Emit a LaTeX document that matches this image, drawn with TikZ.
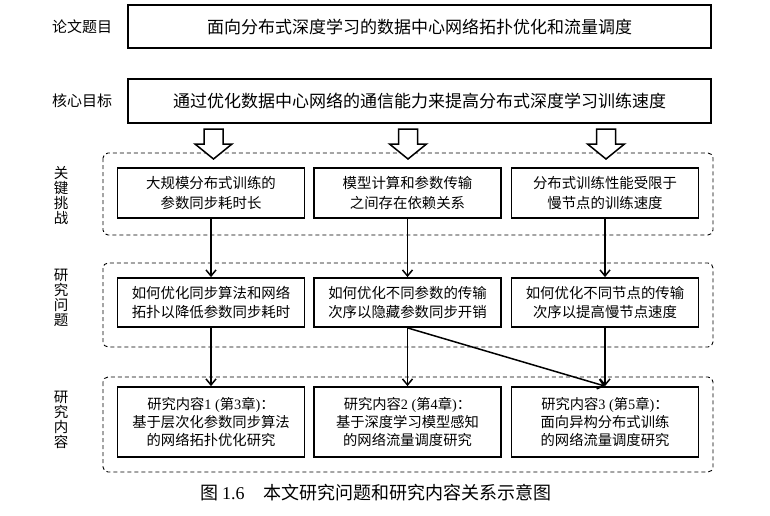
\documentclass[tikz,border=0pt]{standalone}
\usepackage{fontspec}
\setmainfont{Liberation Serif}
\newfontfamily\cjk{Noto Sans CJK SC}
\usetikzlibrary{arrows.meta}
\newcommand{\lt}[1]{{\rmfamily #1}}
\tikzset{
  x=1pt,y=-1pt,
  mainbox/.style={draw,line width=1.8pt,minimum width=583pt,minimum height=43pt,inner sep=0pt,font=\cjk\fontsize{17}{20}\selectfont},
  cellbox/.style={draw,line width=1.8pt,minimum width=187pt,inner sep=0pt,align=center},
  region/.style={draw,line width=0.9pt,dash pattern=on 4pt off 3pt,rounded corners=5pt},
  sidelabel/.style={inner sep=0pt,font=\cjk\fontsize{15}{15}\selectfont},
  vlabel/.style={inner sep=0pt,align=center,font=\cjk\fontsize{14.5}{15}\selectfont},
  link/.style={line width=1.5pt,-{Straight Barb[length=6pt,width=10pt,line width=1.5pt]}},
  blockarrow/.style={draw,fill=white,line width=1.5pt,line join=miter}
}
\begin{document}
\begin{tikzpicture}
\useasboundingbox (0,0) rectangle (770,516);
% top boxes
\node[mainbox] (title) at (419.5,26.5) {面向分布式深度学习的数据中心网络拓扑优化和流量调度};
\node[mainbox,minimum height=44pt] (goal) at (419.5,101) {通过优化数据中心网络的通信能力来提高分布式深度学习训练速度};
\node[sidelabel] (ltitle) at (82,27) {论文题目};
\node[sidelabel] (lgoal) at (82,101) {核心目标};
% regions
\draw[region] (103,153) rectangle (713,235);
\draw[region] (103,263) rectangle (713,347);
\draw[region] (103,377) rectangle (713,472);
\node[vlabel] (lchal) at (61,195.5) {关\\键\\挑\\战};
\node[vlabel] (lprob) at (61,297.5) {研\\究\\问\\题};
\node[vlabel] (lcont) at (61,420) {研\\究\\内\\容};
% block arrows
\foreach \i/\cx in {1/213.5,2/408,3/606}{
  \coordinate (ba\i) at (\cx,129);
  \draw[blockarrow] ([shift={(-9.5,0)}]ba\i) -- ([shift={(9.5,0)}]ba\i) -- ([shift={(9.5,15)}]ba\i)
     -- ([shift={(18.5,15)}]ba\i) -- ([shift={(0,30)}]ba\i) -- ([shift={(-18.5,15)}]ba\i)
     -- ([shift={(-9.5,15)}]ba\i) -- cycle;
}
% row 1
\tikzset{r1/.style={cellbox,minimum height=50pt,font=\cjk\fontsize{14.4}{20}\selectfont}}
\node[r1] (c11) at (211,193) {大规模分布式训练的\\参数同步耗时长};
\node[r1] (c12) at (407.5,193) {模型计算和参数传输\\之间存在依赖关系};
\node[r1] (c13) at (605,193) {分布式训练性能受限于\\慢节点的训练速度};
% row 2
\tikzset{r2/.style={cellbox,minimum height=49pt,font=\cjk\fontsize{14.4}{19}\selectfont}}
\node[r2] (c21) at (211,302.5) {如何优化同步算法和网络\\拓扑以降低参数同步耗时};
\node[r2] (c22) at (407.5,302.5) {如何优化不同参数的传输\\次序以隐藏参数同步开销};
\node[r2] (c23) at (605,302.5) {如何优化不同节点的传输\\次序以提高慢节点速度};
% row 3
\tikzset{r3/.style={cellbox,minimum height=70pt,font=\cjk\fontsize{14.3}{18}\selectfont}}
\node[r3] (c31) at (211,422) {研究内容\lt{1 (}第\lt{3}章\lt{)}：\\基于层次化参数同步算法\\的网络拓扑优化研究};
\node[r3] (c32) at (407.5,422) {研究内容\lt{2 (}第\lt{4}章\lt{)}：\\基于深度学习模型感知\\的网络流量调度研究};
\node[r3] (c33) at (605,422) {研究内容\lt{3 (}第\lt{5}章\lt{)}：\\面向异构分布式训练\\的网络流量调度研究};
% links
\draw[link] (c11.south) -- (c21.north);
\draw[link] (c12.south) -- (c22.north);
\draw[link] (c13.south) -- (c23.north);
\draw[link] (c21.south) -- (c31.north);
\draw[link] (c22.south) -- (c32.north);
\draw[link] (c23.south) -- (c33.north);
\draw[link] (c22.south) -- (c33.north);
% caption
\node[anchor=west,inner sep=0pt,font=\cjk\fontsize{18}{20}\selectfont] (cap) at (200,493) {图 \lt{1.6}\hspace{19pt}本文研究问题和研究内容关系示意图};
\end{tikzpicture}
\end{document}
